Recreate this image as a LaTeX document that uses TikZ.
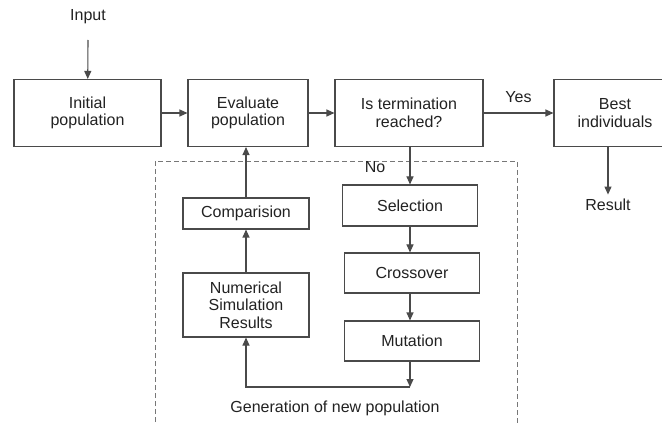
\documentclass[tikz,border=0pt]{standalone}
\usepackage{fontspec}
\setmainfont{Liberation Sans}
\usetikzlibrary{arrows.meta,positioning}
\definecolor{ink}{HTML}{222222}
\definecolor{ln}{HTML}{4A4A4A}
\definecolor{dsh}{HTML}{777777}
\tikzset{
  >={Triangle[length=8pt,width=7pt]},
  every picture/.style={line width=1.1pt,font=\fontsize{16}{17.5}\selectfont},
  bx/.style={draw=ln,fill=white,text=ink,align=center,inner sep=0pt},
  bxw/.style={bx,minimum height=67pt},
  arr/.style={->,draw=ln},
  lab/.style={text=ink,inner sep=4pt},
  grp/.style={draw=dsh,line width=0.9pt,dash pattern=on 5pt off 3pt},
}
\begin{document}
\begin{tikzpicture}[x=1pt,y=-1pt]
  \useasboundingbox (0,0) rectangle (662,425);
  % top row
  \node[lab] (inp) at (88,17) {Input};
  \coordinate (inpt) at (88,40);
  \node[bxw,minimum width=147pt] (init) at (87.5,113) {Initial\\population};
  \node[bxw,minimum width=120pt] (eval) at (248,113) {Evaluate\\population};
  \node[bxw,minimum width=148pt] (term) at (409,113) {Is termination\\reached?};
  \node[bxw,minimum width=132pt,text width=122pt] (best) at (620,113) {\hspace*{-10pt}Best\\\hspace*{-10pt}individuals};
  \node[lab] (res) at (608,205) {Result};
  % new population group
  \draw[grp] (155,430) |- (517,161) -- (517,430);
  \node[lab] (gen) at (335,408) {Generation of new population};
  \node[bx,minimum width=135pt,minimum height=41pt] (sel) at (410,205.5) {Selection};
  \node[bx,minimum width=135pt,minimum height=40pt] (cro) at (412,273) {Crossover};
  \node[bx,minimum width=135pt,minimum height=40pt] (mut) at (412,341) {Mutation};
  \node[bx,minimum width=126pt,minimum height=31pt] (cmp) at (246,213.5) {Comparision};
  \node[bx,minimum width=126pt,minimum height=64pt] (num) at (246,305) {Numerical\\Simulation\\Results};
  \coordinate (jn) at (410,387);
  % connectors
  \draw[arr] (inpt) -- (init);
  \draw[arr] (init) -- (eval);
  \draw[arr] (eval) -- (term);
  \draw[arr] (term) -- node[lab,above=6pt] (yes) {Yes} (best);
  \draw[arr] (best.south -| res) -- (res);
  \draw[arr] (term.south -| sel) -- (sel);
  \node[lab] (no) at (375,167) {No};
  \draw[arr] (sel.south -| jn) -- (cro.north -| jn);
  \draw[arr] (cro.south -| jn) -- (mut.north -| jn);
  \draw[arr] (mut.south -| jn) -- (jn);
  \draw[arr] (jn) -| (num.south);
  \draw[arr] (num) -- (cmp);
  \draw[arr] (cmp.north) -- (cmp.north |- eval.south);
\end{tikzpicture}
\end{document}
